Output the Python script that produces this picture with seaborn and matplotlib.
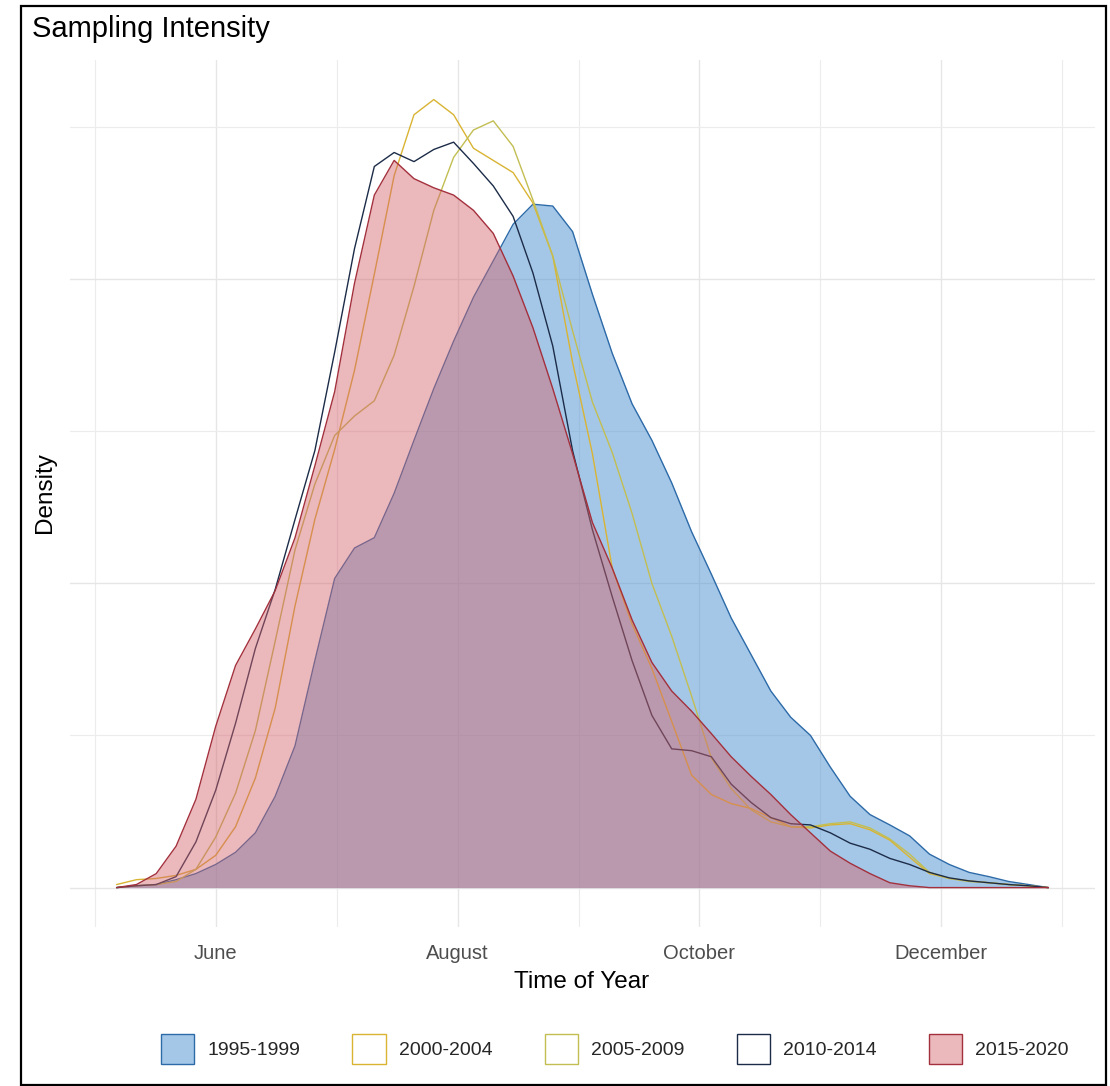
import numpy as np
import pandas as pd
import matplotlib
matplotlib.use("Agg")
import matplotlib.pyplot as plt
from matplotlib.patches import Patch, Rectangle
from matplotlib.colors import to_rgba
import seaborn as sns

# ---------------- data ----------------
day_of_year = [127, 132, 137, 142, 147, 152, 157, 162, 167, 172, 177, 182,
               187, 192, 197, 202, 207, 212, 217, 222, 227, 232, 237, 242,
               247, 252, 257, 262, 267, 272, 277, 282, 287, 292, 297, 302,
               307, 312, 317, 322, 327, 332, 337, 342, 347, 352, 357, 362]

# density values in units of 1e-3
dens_1995_1999 = [0.0, 0.03, 0.05, 0.13, 0.23, 0.38, 0.58, 0.90, 1.50, 2.33, 3.73, 5.08,
                  5.58, 5.75, 6.48, 7.35, 8.20, 8.98, 9.70, 10.30, 10.90, 11.23, 11.20, 10.78,
                  9.75, 8.78, 7.95, 7.35, 6.65, 5.85, 5.15, 4.43, 3.83, 3.23, 2.80, 2.50,
                  1.98, 1.50, 1.20, 1.03, 0.85, 0.55, 0.38, 0.25, 0.18, 0.10, 0.05, 0.0]
dens_2000_2004 = [0.05, 0.13, 0.15, 0.20, 0.30, 0.53, 1.00, 1.80, 2.95, 4.63, 6.05, 7.20,
                  8.50, 10.08, 11.70, 12.70, 12.95, 12.70, 12.15, 11.95, 11.75, 11.25, 10.38, 8.63,
                  7.13, 5.25, 4.33, 3.60, 2.73, 1.85, 1.53, 1.38, 1.30, 1.15, 1.00, 0.98,
                  1.03, 1.05, 0.95, 0.78, 0.50, 0.23, 0.15, 0.11, 0.08, 0.05, 0.03, 0.0]
dens_2005_2009 = [0.0, 0.03, 0.05, 0.10, 0.30, 0.83, 1.55, 2.58, 4.05, 5.55, 6.63, 7.43,
                  7.75, 8.00, 8.75, 9.88, 11.13, 12.00, 12.45, 12.60, 12.18, 11.30, 10.38, 9.15,
                  7.98, 7.15, 6.15, 5.00, 4.13, 3.15, 2.13, 1.63, 1.28, 1.08, 1.00, 1.00,
                  1.05, 1.08, 0.98, 0.80, 0.55, 0.25, 0.15, 0.10, 0.08, 0.05, 0.03, 0.0]
dens_2010_2014 = [0.0, 0.03, 0.05, 0.18, 0.75, 1.60, 2.70, 3.93, 4.90, 6.05, 7.18, 8.80,
                  10.50, 11.85, 12.08, 11.93, 12.13, 12.25, 11.90, 11.53, 11.03, 10.10, 8.90, 7.18,
                  5.88, 4.78, 3.73, 2.83, 2.28, 2.25, 2.15, 1.70, 1.40, 1.15, 1.05, 1.03,
                  0.90, 0.73, 0.63, 0.48, 0.38, 0.25, 0.16, 0.11, 0.08, 0.05, 0.03, 0.0]
dens_2015_2020 = [0.0, 0.05, 0.23, 0.68, 1.45, 2.65, 3.65, 4.25, 4.88, 5.75, 6.93, 8.15,
                  9.93, 11.38, 11.95, 11.65, 11.50, 11.38, 11.13, 10.75, 10.05, 9.20, 8.20, 7.13,
                  6.00, 5.25, 4.40, 3.70, 3.23, 2.90, 2.53, 2.15, 1.83, 1.53, 1.20, 0.90,
                  0.60, 0.40, 0.23, 0.08, 0.03, 0.0, 0.0, 0.0, 0.0, 0.0, 0.0, 0.0]

periods = ["1995-1999", "2000-2004", "2005-2009", "2010-2014", "2015-2020"]
month_ticks = [152, 213, 274, 335]          # 1 June, 1 Aug, 1 Oct, 1 Dec (day of year)
month_labels = ["June", "August", "October", "December"]

series = {
    "1995-1999": dens_1995_1999,
    "2000-2004": dens_2000_2004,
    "2005-2009": dens_2005_2009,
    "2010-2014": dens_2010_2014,
    "2015-2020": dens_2015_2020,
}
df = pd.concat([
    pd.DataFrame({"period": p, "day": day_of_year, "density": np.array(v) * 1e-3})
    for p, v in series.items()
], ignore_index=True)

# ---------------- style ----------------
line_colors = {
    "1995-1999": "#2c6aa8",
    "2000-2004": "#d9b433",
    "2005-2009": "#c2be52",
    "2010-2014": "#1c2c48",
    "2015-2020": "#a3303c",
}
fill_colors = {"1995-1999": "#4d91d1", "2015-2020": "#d4646d"}
fill_alpha = {"1995-1999": 0.5, "2015-2020": 0.46}
zorders = {"1995-1999": 3, "2000-2004": 4, "2005-2009": 5, "2010-2014": 6, "2015-2020": 8}

sns.set_theme(style="white")
plt.rcParams["font.family"] = ["Liberation Sans", "DejaVu Sans"]

W, H = 1110, 1086
fig = plt.figure(figsize=(W / 100, H / 100), dpi=100)
ax = fig.add_axes([70 / W, 1 - 927 / H, 1025 / W, 867 / H])

for p in periods:
    sub = df[df["period"] == p]
    if p in fill_colors:
        ax.fill_between(sub["day"], 0, sub["density"], color=fill_colors[p],
                        alpha=fill_alpha[p], lw=0, zorder=zorders[p] - 1)
    sns.lineplot(data=sub, x="day", y="density", color=line_colors[p], lw=1.0,
                 ax=ax, zorder=zorders[p], estimator=None, sort=False, legend=False)

ax.set_xlim(115.25, 373.75)
ax.set_ylim(-0.0006475, 0.0136)

ax.set_xticks(month_ticks, month_labels)
ax.set_xticks([121.5, 182.5, 243.5, 304.5, 365.5], minor=True)
ax.set_yticks([0, 0.005, 0.010])
ax.set_yticks([0.0025, 0.0075, 0.0125], minor=True)
ax.set_yticklabels([])
ax.grid(which="major", color="#e6e6e6", lw=1.0)
ax.grid(which="minor", color="#ececec", lw=0.8)
ax.set_axisbelow(True)
for s in ax.spines.values():
    s.set_visible(False)
ax.tick_params(which="both", length=0)
ax.tick_params(axis="x", labelsize=14.5, labelcolor="#4d4d4d", pad=12)
ax.set_xlabel("")
ax.set_ylabel("")

fig.text(32 / W, 1 - 37 / H, "Sampling Intensity", fontsize=21, color="black",
         ha="left", va="baseline")
fig.text(582 / W, 1 - 982 / H, "Time of Year", fontsize=17.5, color="black",
         ha="center", va="center")
fig.text(45 / W, 1 - 493 / H, "Density", fontsize=17.5, color="black",
         ha="center", va="center", rotation=90)

handles = []
for p in periods:
    if p in fill_colors:
        fc = to_rgba(fill_colors[p], fill_alpha[p])
    else:
        fc = "white"
    handles.append(Patch(facecolor=fc, edgecolor=line_colors[p], lw=1.0))
fig.legend(handles, periods, loc="center left", bbox_to_anchor=(161 / W, 1 - 1049 / H),
           ncol=5, frameon=False, fontsize=14, handlelength=1.7, handleheight=2.0,
           handletextpad=0.67, columnspacing=2.7, borderaxespad=0, borderpad=0)

fig.patches.append(Rectangle((21 / W, 1 / H), (1106 - 21) / W, (1085 - 6) / H,
                             transform=fig.transFigure, fill=False,
                             edgecolor="black", lw=1.6))

fig.savefig("out.png", dpi=100, facecolor="white")
